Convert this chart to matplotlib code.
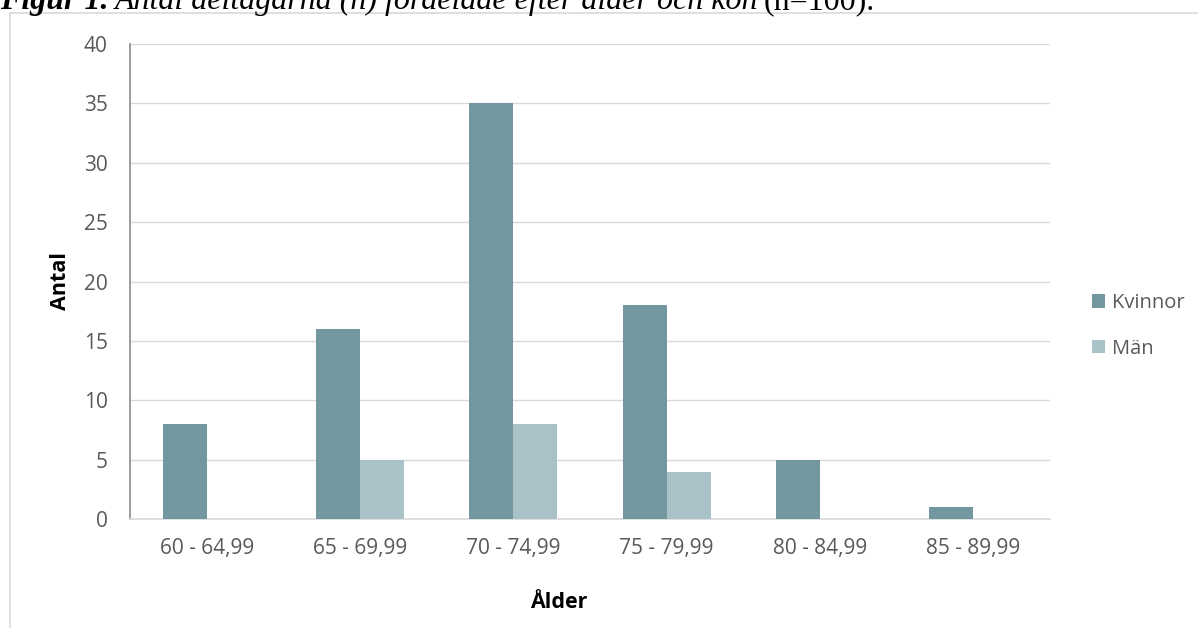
import matplotlib
matplotlib.use("Agg")
import matplotlib.pyplot as plt
from matplotlib.lines import Line2D
import numpy as np

categories = ["60 - 64,99", "65 - 69,99", "70 - 74,99", "75 - 79,99", "80 - 84,99", "85 - 89,99"]
kvinnor = [8, 16, 35, 18, 5, 1]
man = [0, 5, 8, 4, 0, 0]
series_names = ["Kvinnor", "Män"]
y_ticks = [0, 5, 10, 15, 20, 25, 30, 35, 40]

plt.rcParams["font.family"] = ["Open Sans", "DejaVu Sans"]

W, H = 1198, 628
fig = plt.figure(figsize=(W / 100, H / 100), dpi=100)
fig.patch.set_facecolor("white")

ax = fig.add_axes([130 / W, 1 - 519 / H, 920 / W, 475 / H])

x = np.arange(len(categories))
w = 0.287
c_k = "#72979F"
c_m = "#A9C2C8"
ax.bar(x - w / 2, kvinnor, width=w, color=c_k, label=series_names[0], zorder=3)
ax.bar(x + w / 2, man, width=w, color=c_m, label=series_names[1], zorder=3)

ax.set_xlim(-0.5, len(categories) - 0.5)
ax.set_ylim(0, 40)
ax.set_yticks(y_ticks)
ax.set_xticks(x)
ax.set_xticklabels(categories)
ax.tick_params(axis="both", length=0, labelsize=15, colors="#595959")
ax.tick_params(axis="y", pad=16)
ax.tick_params(axis="x", pad=14)

ax.yaxis.grid(True, color="#D9D9D9", linewidth=1)
ax.set_axisbelow(True)
for s in ["top", "right"]:
    ax.spines[s].set_visible(False)
ax.spines["left"].set_color("#8C8C8C")
ax.spines["left"].set_linewidth(1.2)
ax.spines["bottom"].set_color("#D9D9D9")
ax.spines["bottom"].set_linewidth(1.2)

fig.text(61 / W, 1 - 281 / H, "Antal", fontsize=15.5, fontweight="bold",
         rotation=90, ha="center", va="center")
fig.text(559 / W, 1 - 602 / H, "Ålder", fontsize=15.5, fontweight="bold",
         ha="center", va="center")

leg = fig.legend(loc="center left", bbox_to_anchor=(1092 / W, 1 - 326 / H),
                 frameon=False, fontsize=14.5, handlelength=0.65, handleheight=0.65,
                 handletextpad=0.35, labelspacing=1.27, borderpad=0,
                 borderaxespad=0, labelcolor="#595959")

# chart frame (left and top edges)
fig.add_artist(Line2D([10 / W, 10 / W], [0, 1 - 13 / H],
                      transform=fig.transFigure, color="#D9D9D9", linewidth=1.2))
fig.add_artist(Line2D([10 / W, 1], [1 - 13 / H, 1 - 13 / H],
                      transform=fig.transFigure, color="#D9D9D9", linewidth=1.2))

# caption above the chart
serif = ["Liberation Serif", "DejaVu Serif"]
base_y = 1 - 9 / H
t = fig.text(0, base_y, "Figur 1.", fontsize=23, family=serif,
             fontweight="bold", fontstyle="italic", ha="left", va="baseline")
fig.canvas.draw()
bb = t.get_window_extent()
t2 = fig.text(bb.x1 / W + 0.005, base_y,
              "Antal deltagarna (n) fördelade efter ålder och kön", fontsize=23,
              family=serif, fontstyle="italic", ha="left", va="baseline")
fig.canvas.draw()
bb2 = t2.get_window_extent()
fig.text(bb2.x1 / W + 0.005, base_y, "(n=100).", fontsize=23,
         family=serif, ha="left", va="baseline")

fig.savefig("out.png", dpi=100, facecolor="white")
